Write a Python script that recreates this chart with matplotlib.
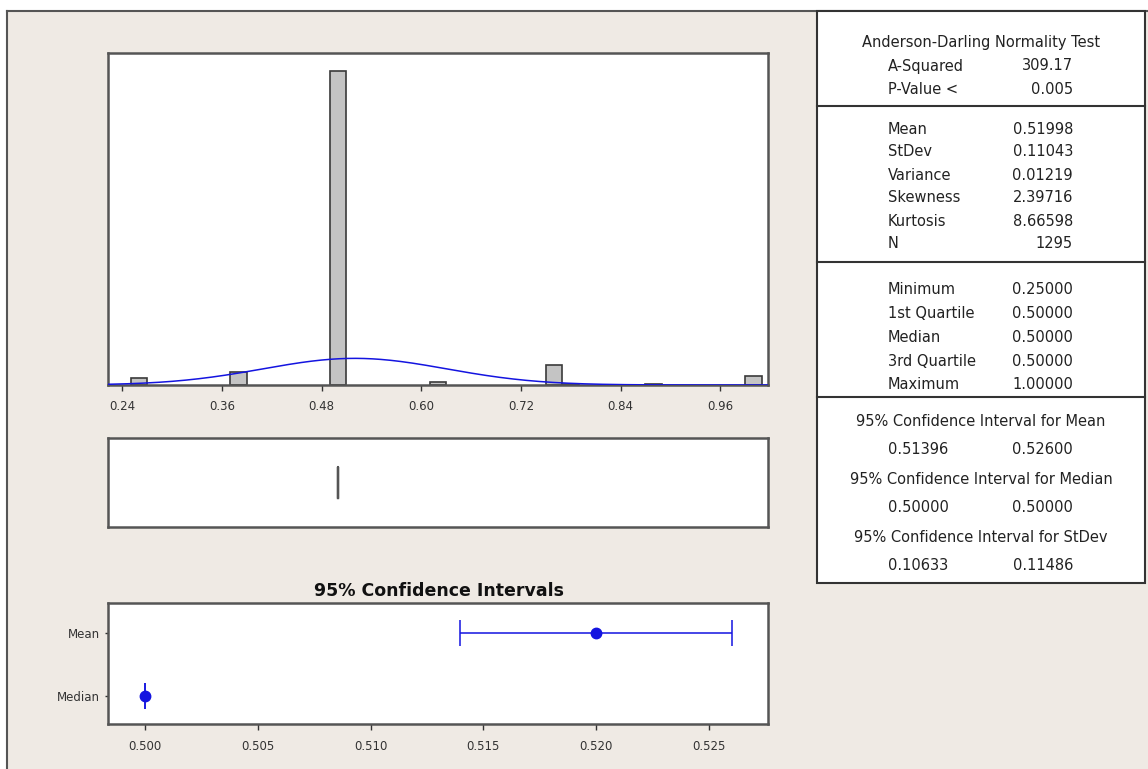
import numpy as np
import matplotlib
matplotlib.use("Agg")
import matplotlib.pyplot as plt
from matplotlib.patches import Rectangle
from matplotlib.lines import Line2D

# ---------------- data ----------------
bin_centers = [0.26, 0.38, 0.50, 0.62, 0.76, 0.78, 0.88, 1.00]
bin_counts = [25, 46, 1103, 11, 70, 5, 3, 31]
bin_width = 0.02
hist_ticks = [0.24, 0.36, 0.48, 0.60, 0.72, 0.84, 0.96]

n_obs = 1295
mean_val = 0.51998
stdev_val = 0.11043
median_val = 0.5

ci_labels = ["Mean", "Median"]
ci_center = [0.51998, 0.50000]
ci_low = [0.51396, 0.50000]
ci_high = [0.52600, 0.50000]
ci_ticks = [0.500, 0.505, 0.510, 0.515, 0.520, 0.525]

ad_rows = [("A-Squared", "309.17"), ("P-Value <", "0.005")]
desc_rows = [("Mean", "0.51998"), ("StDev", "0.11043"), ("Variance", "0.01219"),
             ("Skewness", "2.39716"), ("Kurtosis", "8.66598"), ("N", "1295")]
quart_rows = [("Minimum", "0.25000"), ("1st Quartile", "0.50000"), ("Median", "0.50000"),
              ("3rd Quartile", "0.50000"), ("Maximum", "1.00000")]
ci_rows = [("95% Confidence Interval for Mean", "0.51396", "0.52600"),
           ("95% Confidence Interval for Median", "0.50000", "0.50000"),
           ("95% Confidence Interval for StDev", "0.10633", "0.11486")]

# ---------------- layout helpers ----------------
W, H = 1148, 769
fig = plt.figure(figsize=(W / 100, H / 100), dpi=100)
fig.patch.set_facecolor("white")

def rect(l, t, r, b):
    return [l / W, 1 - b / H, (r - l) / W, (b - t) / H]

def fx(x):
    return x / W

def fy(y):
    return 1 - y / H

BEIGE = "#EFEAE4"
FRAME = "#555555"
BLUE = "#1414E0"

# background panel
bg = Rectangle((fx(7), 0), 1 - fx(7), fy(10.7), transform=fig.transFigure,
               facecolor=BEIGE, edgecolor="none", zorder=-5)
fig.add_artist(bg)
fig.add_artist(Line2D([fx(7), fx(7)], [0, fy(10.7)], transform=fig.transFigure, color=FRAME, lw=1.5, zorder=-4))
fig.add_artist(Line2D([fx(7), 1], [fy(10.7), fy(10.7)], transform=fig.transFigure, color=FRAME, lw=1.5, zorder=-4))

tick_font = dict(family="DejaVu Sans", size=8.5, color="#333333")

# ---------------- histogram ----------------
axh = fig.add_axes(rect(107.7, 53, 768, 385), zorder=3)
axh.set_facecolor("white")
axh.bar(bin_centers, bin_counts, width=bin_width, color="#C4C4C4", edgecolor="#3A3A3A",
        linewidth=1.2, zorder=2)
xs = np.linspace(0.2225, 1.0175, 400)
ys = n_obs * bin_width * np.exp(-0.5 * ((xs - mean_val) / stdev_val) ** 2) / (stdev_val * np.sqrt(2 * np.pi))
axh.plot(xs, ys, color=BLUE, lw=1.1, zorder=3)
axh.set_xlim(0.2225, 1.0175)
axh.set_ylim(0, 1166)
axh.set_yticks([])
axh.set_xticks(hist_ticks)
axh.set_xticklabels([f"{t:.2f}" for t in hist_ticks], fontdict=tick_font)
axh.tick_params(axis="x", length=4.5, width=1, color="#333333", pad=6)
for s in axh.spines.values():
    s.set_color(FRAME)
    s.set_linewidth(1.8)

# ---------------- boxplot ----------------
axb = fig.add_axes(rect(108, 438, 768, 527), zorder=3)
axb.set_facecolor("white")
box_stats = [dict(med=median_val, q1=0.5, q3=0.5, whislo=0.5, whishi=0.5, fliers=[])]
axb.bxp(box_stats, positions=[1], widths=0.7, orientation="horizontal", showfliers=False, showcaps=False,
        boxprops=dict(color="#555555", lw=1.6), medianprops=dict(color="#555555", lw=1.6),
        whiskerprops=dict(color="#555555", lw=1.6))
axb.set_xlim(0.2225, 1.0175)
axb.set_ylim(0, 2)
axb.set_xticks([])
axb.set_yticks([])
for s in axb.spines.values():
    s.set_color(FRAME)
    s.set_linewidth(1.8)

# ---------------- confidence intervals ----------------
axc = fig.add_axes(rect(108, 603, 768, 724), zorder=3)
axc.set_facecolor("white")
ypos = [1, 0]
for y, c, lo, hi in zip(ypos, ci_center, ci_low, ci_high):
    axc.errorbar([c], [y], xerr=[[c - lo], [hi - c]], fmt="o", color=BLUE, ecolor=BLUE,
                 markersize=7.5, capsize=9.5, elinewidth=1.1, capthick=1.1)
axc.set_xlim(0.49837, 0.52761)
axc.set_ylim(-0.44, 1.48)
axc.set_xticks(ci_ticks)
axc.set_xticklabels([f"{t:.3f}" for t in ci_ticks], fontdict=tick_font)
axc.set_yticks(ypos)
axc.set_yticklabels(ci_labels, fontdict=tick_font)
axc.tick_params(axis="x", length=4.5, width=1, color="#333333", pad=7)
axc.tick_params(axis="y", length=2.5, width=1, color="#333333", pad=3)
for s in axc.spines.values():
    s.set_color(FRAME)
    s.set_linewidth(1.8)
fig.text(fx(439), fy(591), "95% Confidence Intervals", ha="center", va="center",
         fontsize=12.5, fontweight="bold", family="DejaVu Sans", color="#111111")

# ---------------- statistics table ----------------
fig.add_artist(Rectangle((fx(817), fy(582.7)), fx(1145) - fx(817), fy(10.7) - fy(582.7),
                         transform=fig.transFigure, facecolor="white", edgecolor="#333333",
                         lw=1.5, zorder=1))
for yl in [106, 262, 397]:
    fig.add_artist(Line2D([fx(817), fx(1145)], [fy(yl), fy(yl)], transform=fig.transFigure,
                          color="#333333", lw=1.5, zorder=2))

tf = dict(fontsize=10.5, family="DejaVu Sans", color="#222222", va="center", zorder=4)
LX, RX, CX = 888, 1073, 981
fig.text(fx(CX), fy(42), "Anderson-Darling Normality Test", ha="center", **tf)
for i, (lab, val) in enumerate(ad_rows):
    y = 66 + 23 * i
    fig.text(fx(LX), fy(y), lab, ha="left", **tf)
    fig.text(fx(RX), fy(y), val, ha="right", **tf)
for i, (lab, val) in enumerate(desc_rows):
    y = 129 + 23 * i
    fig.text(fx(LX), fy(y), lab, ha="left", **tf)
    fig.text(fx(RX), fy(y), val, ha="right", **tf)
for i, (lab, val) in enumerate(quart_rows):
    y = 290 + 23.7 * i
    fig.text(fx(LX), fy(y), lab, ha="left", **tf)
    fig.text(fx(RX), fy(y), val, ha="right", **tf)
for i, (lab, lo, hi) in enumerate(ci_rows):
    y = 421 + 58.5 * i
    fig.text(fx(CX), fy(y), lab, ha="center", **tf)
    fig.text(fx(LX), fy(y + 28), lo, ha="left", **tf)
    fig.text(fx(RX), fy(y + 28), hi, ha="right", **tf)

fig.savefig("out.png", dpi=100, facecolor=fig.get_facecolor())
